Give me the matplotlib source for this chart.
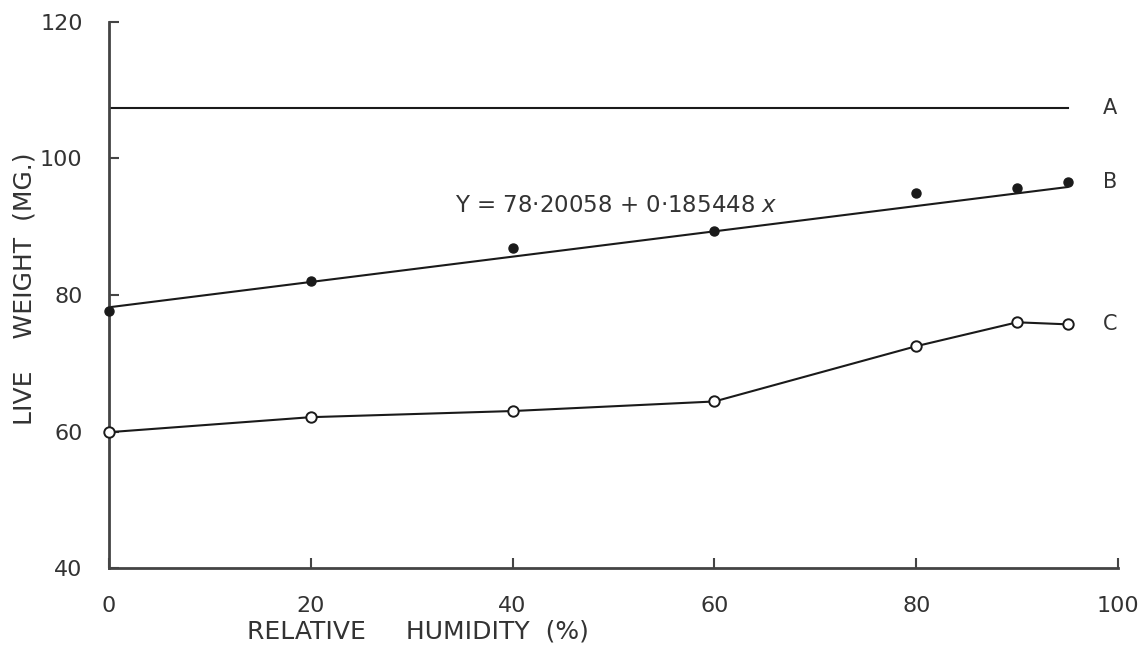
import matplotlib.pyplot as plt

# relative humidity (%) and mean live weight (mg)
rh = [0, 20, 40, 60, 80, 90, 95]
weight_b = [77.6, 82.1, 86.9, 89.4, 94.9, 95.7, 96.6]
weight_c = [59.9, 62.1, 63.0, 64.4, 72.5, 76.0, 75.7]

# curve A is flat across the humidity range
rh_a = [0, 95]
weight_a = [107.4, 107.4]

# regression for B
b0 = 78.20058
b1 = 0.185448
rh_fit = [0, 95]
weight_fit = [b0 + b1 * v for v in rh_fit]

xticks = [0, 20, 40, 60, 80, 100]
yticks = [40, 60, 80, 100, 120]

ink = '#1a1a1a'
plt.rcParams['font.family'] = ['DejaVu Sans']

fig = plt.figure(figsize=(11.46, 6.52), dpi=100)
ax = fig.add_axes([0.0951, 0.1288, 0.8805, 0.8375])

ax.plot(rh_a, weight_a, '-', color=ink, lw=1.5)
ax.plot(rh_fit, weight_fit, '-', color=ink, lw=1.5)
ax.plot(rh, weight_b, 'o', color=ink, ms=6.5, clip_on=False, zorder=3)
ax.plot(rh, weight_c, '-', color=ink, lw=1.5)
ax.plot(rh, weight_c, 'o', mfc='white', mec=ink, mew=1.4, ms=7.5,
        clip_on=False, zorder=3)

ax.text(98.5, weight_a[-1], 'A', fontsize=15, color='#333333', va='center')
ax.text(98.5, weight_b[-1], 'B', fontsize=15, color='#333333', va='center')
ax.text(98.5, weight_c[-1], 'C', fontsize=15, color='#333333', va='center')

ax.text(34.3, 93.1, 'Y = 78·20058 + 0·185448 $x$', fontsize=16.5,
        color='#333333', va='center')

ax.set_xlim(0, 100)
ax.set_ylim(40, 120)
ax.set_xticks(xticks)
ax.set_yticks(yticks)

for side in ['top', 'right']:
    ax.spines[side].set_visible(False)
for side in ['left', 'bottom']:
    ax.spines[side].set_linewidth(2)
    ax.spines[side].set_color('#444444')

ax.tick_params(direction='in', length=7, width=1.5, color='#444444',
               labelsize=16, labelcolor='#333333')
ax.tick_params(axis='x', pad=20)
ax.tick_params(axis='y', pad=19)

ax.set_xlabel('RELATIVE     HUMIDITY  (%)', fontsize=18, color='#333333')
ax.set_ylabel('LIVE    WEIGHT  (MG.)', fontsize=18, color='#333333')
ax.xaxis.set_label_coords(0.306, -0.095)
ax.yaxis.set_label_coords(-0.072, 0.511)

fig.savefig('out.png', dpi=100)
